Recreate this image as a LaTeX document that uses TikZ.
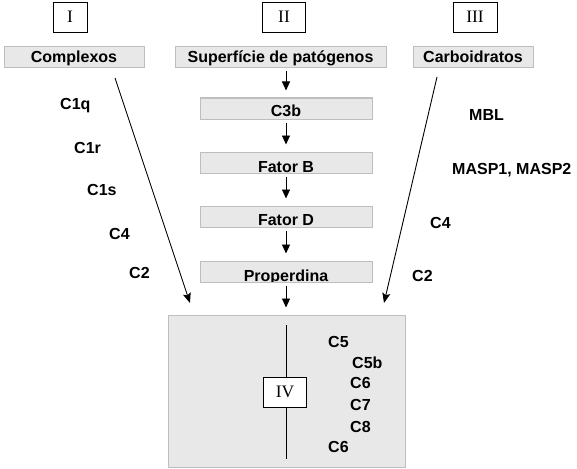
\documentclass[tikz,border=0pt]{standalone}
\usepackage{fontspec}
\setmainfont{Liberation Sans}
\newfontfamily\romanfont{Liberation Serif}
\usetikzlibrary{arrows.meta}
\definecolor{boxfill}{HTML}{E8E8E8}
\definecolor{boxline}{HTML}{BEBEBE}
\tikzset{
  graybox/.style={draw=boxline, fill=boxfill, line width=1pt, inner sep=0pt,
    minimum height=21, text depth=0pt, font=\fontsize{16}{19}\selectfont\bfseries},
  numbox/.style={draw=black, fill=white, line width=0.9pt, inner sep=0pt,
    minimum height=30, font=\fontsize{17.5}{20}\selectfont\romanfont},
  lbl/.style={inner sep=0pt, anchor=base west, font=\fontsize{16}{19}\selectfont\bfseries},
  flow/.style={line width=0.9pt, -{Triangle[length=9pt,width=8pt]}, shorten <=3pt, shorten >=7pt},
  diag/.style={line width=0.9pt, -{Stealth[length=10pt,width=8pt,inset=2pt]}}
}
\begin{document}
\begin{tikzpicture}[x=1pt,y=-1pt]
\useasboundingbox (0,0) rectangle (577,468);
% numeral boxes
\node[numbox, minimum width=34] (nI) at (70,17) {I};
\node[numbox, minimum width=43] (nII) at (284,17) {II};
\node[numbox, minimum width=44] (nIII) at (475,17) {III};
% top gray boxes
\node[graybox, minimum width=140, text height=11pt] (compl) at (74,57.5) {Complexos};
\node[graybox, minimum width=211, text height=11pt] (sup) at (280.5,57.5) {Superfície de patógenos};
\node[graybox, minimum width=120, text height=11pt] (carb) at (473,57.5) {Carboidratos};
% middle column
\node[graybox, minimum width=172, text height=17pt] (c3b) at (286,108.5) {C3b};
\node[graybox, minimum width=172, text height=19pt] (fb) at (286,162.5) {Fator B};
\node[graybox, minimum width=172, text height=17pt] (fd) at (286,216.5) {Fator D};
\node[graybox, minimum width=172] (prop) at (286,271.5) {};
\begin{scope}
\clip ([yshift=0.6pt]prop.south west) rectangle (prop.north east);
\node[lbl, anchor=base] (proptext) at (286,281.5) {Properdina};
\end{scope}
% big box
\node[graybox, minimum width=237, minimum height=152] (big) at (286.5,391) {};
\coordinate (vtop) at (286,325);
\coordinate (vbot) at (286,459);
\node[numbox, minimum width=43] (nIV) at (285,392) {IV};
\draw[line width=0.9pt] (vtop) -- (vtop |- nIV.north);
\draw[line width=0.9pt] (vbot |- nIV.south) -- (vbot);
% flow arrows
\coordinate (suptip) at (286,68);
\draw[flow] (suptip) -- (c3b.north);
\draw[flow] (c3b.south) -- (fb.north);
\draw[flow] (fb.south) -- (fd.north);
\draw[flow] (fd.south) -- (prop.north);
\draw[flow] (prop.south) -- (big.north -| prop.south);
% diagonal arrows
\coordinate (ls) at (115,78);
\coordinate (le) at (190,303);
\coordinate (rs) at (437,77);
\coordinate (re) at (384,303);
\draw[diag] (ls) -- (le);
\draw[diag] (rs) -- (re);
% left labels
\node[lbl] (c1q) at (60,109) {C1q};
\node[lbl] (c1r) at (74,153) {C1r};
\node[lbl] (c1s) at (87,195) {C1s};
\node[lbl] (lc4) at (109,239) {C4};
\node[lbl] (lc2) at (129,278) {C2};
% right labels
\node[lbl] (mbl) at (469,121) {MBL};
\node[lbl] (masp) at (452,174) {MASP1, MASP2};
\node[lbl] (rc4) at (430,228) {C4};
\node[lbl] (rc2) at (412,281) {C2};
% big box labels
\node[lbl] (c5) at (328,347) {C5};
\node[lbl] (c5b) at (352,368) {C5b};
\node[lbl] (c6a) at (350,388) {C6};
\node[lbl] (c7) at (350,410) {C7};
\node[lbl] (c8) at (350,432) {C8};
\node[lbl] (c6b) at (328,452) {C6};
\end{tikzpicture}
\end{document}
